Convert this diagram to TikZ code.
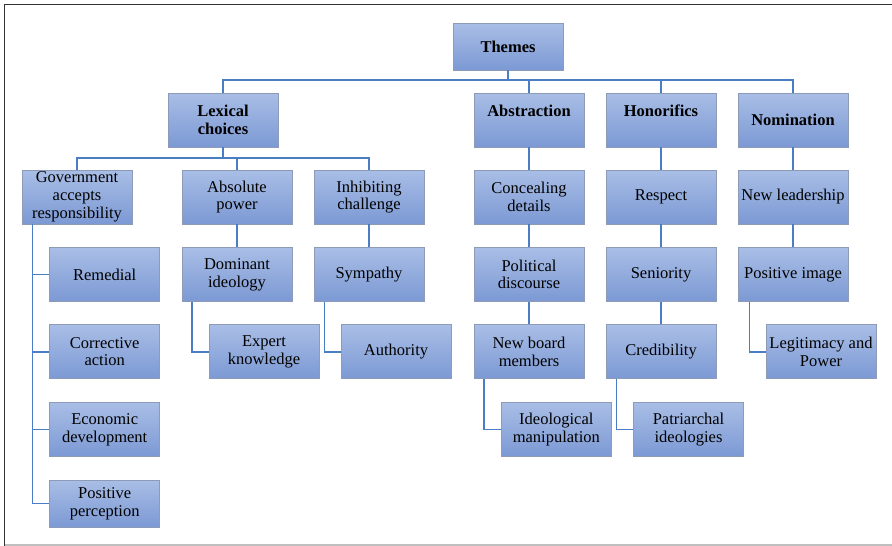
\documentclass[tikz,border=0pt]{standalone}
\usepackage{fontspec}
\setmainfont{Liberation Serif}
\usepackage{xcolor}
\usetikzlibrary{positioning,calc}

\definecolor{boxtop}{HTML}{A9BEE6}
\definecolor{boxbot}{HTML}{7C99D4}
\definecolor{boxline}{HTML}{8E9BB8}
\definecolor{linkblue}{HTML}{4A7EC4}

\tikzset{
  themebox/.style={draw=boxline, line width=0.9pt, top color=boxtop, bottom color=boxbot,
    minimum width=110pt, minimum height=54pt, inner sep=1pt, align=center,
    font=\fontsize{16.5}{17.7}\selectfont},
  headbox/.style={themebox, font=\fontsize{16.5}{17.7}\selectfont\bfseries},
  link/.style={draw=linkblue, line width=1.8pt}
}

\begin{document}
\begin{tikzpicture}[x=1pt,y=-1pt]
        \useasboundingbox (0,0) rectangle (892,546);
        % Frame
        \draw[line width=1.3pt, black!80] (892,4.5) -- (4.5,4.5) -- (4.5,546);
        \draw[line width=1.2pt, black!25] (4.5,545) -- (892,545);

        % Root
        \node[headbox, minimum height=47pt] (themes) at (508,46.5) {Themes};

        % Main themes
        \node[headbox] (lex) at (223,120) {Lexical\\choices};
        \node[headbox] (abs) at (529,120) {Abstraction\\\mbox{}};
        \node[headbox] (hon) at (661,120) {Honorifics\\\mbox{}};
        \node[headbox] (nom) at (793,120) {Nomination};

        % Lexical choices
        \node[themebox] (gov) at (77,197) {Government\\accepts\\responsibility};
        \node[themebox] (power) at (237,197) {Absolute\\power};
        \node[themebox] (inhib) at (369,197) {Inhibiting\\challenge};
        \node[themebox] (remed) at (104.7,274.5) {Remedial};
        \node[themebox] (correct) at (104.7,351.7) {Corrective\\action};
        \node[themebox] (econ) at (104.7,429.5) {Economic\\development};
        \node[themebox, minimum height=47pt] (percep) at (104.7,503.5) {Positive\\perception};
        \node[themebox] (domin) at (237,274.5) {Dominant\\ideology};
        \node[themebox] (expert) at (264,351.7) {Expert\\knowledge};
        \node[themebox] (sympa) at (369,274.5) {Sympathy};
        \node[themebox] (autho) at (396,351.7) {Authority};

        % Abstraction
        \node[themebox] (conceal) at (529,197) {Concealing\\details};
        \node[themebox] (politic) at (529,274.5) {Political\\discourse};
        \node[themebox] (board) at (529,351.7) {New board\\members};
        \node[themebox] (manip) at (556.3,429.5) {Ideological\\manipulation};

        % Honorifics
        \node[themebox] (respect) at (661,197) {Respect};
        \node[themebox] (senior) at (661,274.5) {Seniority};
        \node[themebox] (cred) at (661,351.7) {Credibility};
        \node[themebox] (patri) at (688.5,429.5) {Patriarchal\\ideologies};

        % Nomination
        \node[themebox] (leader) at (793,197) {New leadership};
        \node[themebox] (image) at (793,274.5) {Positive image};
        \node[themebox] (legit) at (821,351.7) {Legitimacy and\\Power};

        % Top level bus
        \coordinate (bus) at (0,80);
        \draw[link] (themes.south) -- (themes.south |- bus);
        \draw[link] (lex.north) |- (nom.north |- bus) -- (nom.north);
        \draw[link] (abs.north) -- (abs.north |- bus);
        \draw[link] (hon.north) -- (hon.north |- bus);

        % Lexical bus
        \coordinate (lexbus) at (0,158);
        \draw[link] (lex.south) -- (lex.south |- lexbus);
        \draw[link] (gov.north) |- (inhib.north |- lexbus) -- (inhib.north);
        \draw[link] (power.north) -- (power.north |- lexbus);

        % Straight links
        \draw[link] (power) -- (domin);
        \draw[link] (inhib) -- (sympa);
        \draw[link] (abs) -- (conceal);
        \draw[link] (conceal) -- (politic);
        \draw[link] (politic) -- (board);
        \draw[link] (hon) -- (respect);
        \draw[link] (respect) -- (senior);
        \draw[link] (senior) -- (cred);
        \draw[link] (nom) -- (leader);
        \draw[link] (leader) -- (image);

        % Elbow links
        \draw[link] ([xshift=11pt]gov.south west) |- (percep.west);
        \draw[link] ([xshift=11pt]gov.south west) |- (remed.west);
        \draw[link] ([xshift=11pt]gov.south west) |- (correct.west);
        \draw[link] ([xshift=11pt]gov.south west) |- (econ.west);
        \draw[link] ([xshift=10.5pt]domin.south west) |- (expert.west);
        \draw[link] ([xshift=11pt]sympa.south west) |- (autho.west);
        \draw[link] ([xshift=10.5pt]board.south west) |- (manip.west);
        \draw[link] ([xshift=11pt]cred.south west) |- (patri.west);
        \draw[link] ([xshift=12pt]image.south west) |- (legit.west);
    \end{tikzpicture}
\end{document}
